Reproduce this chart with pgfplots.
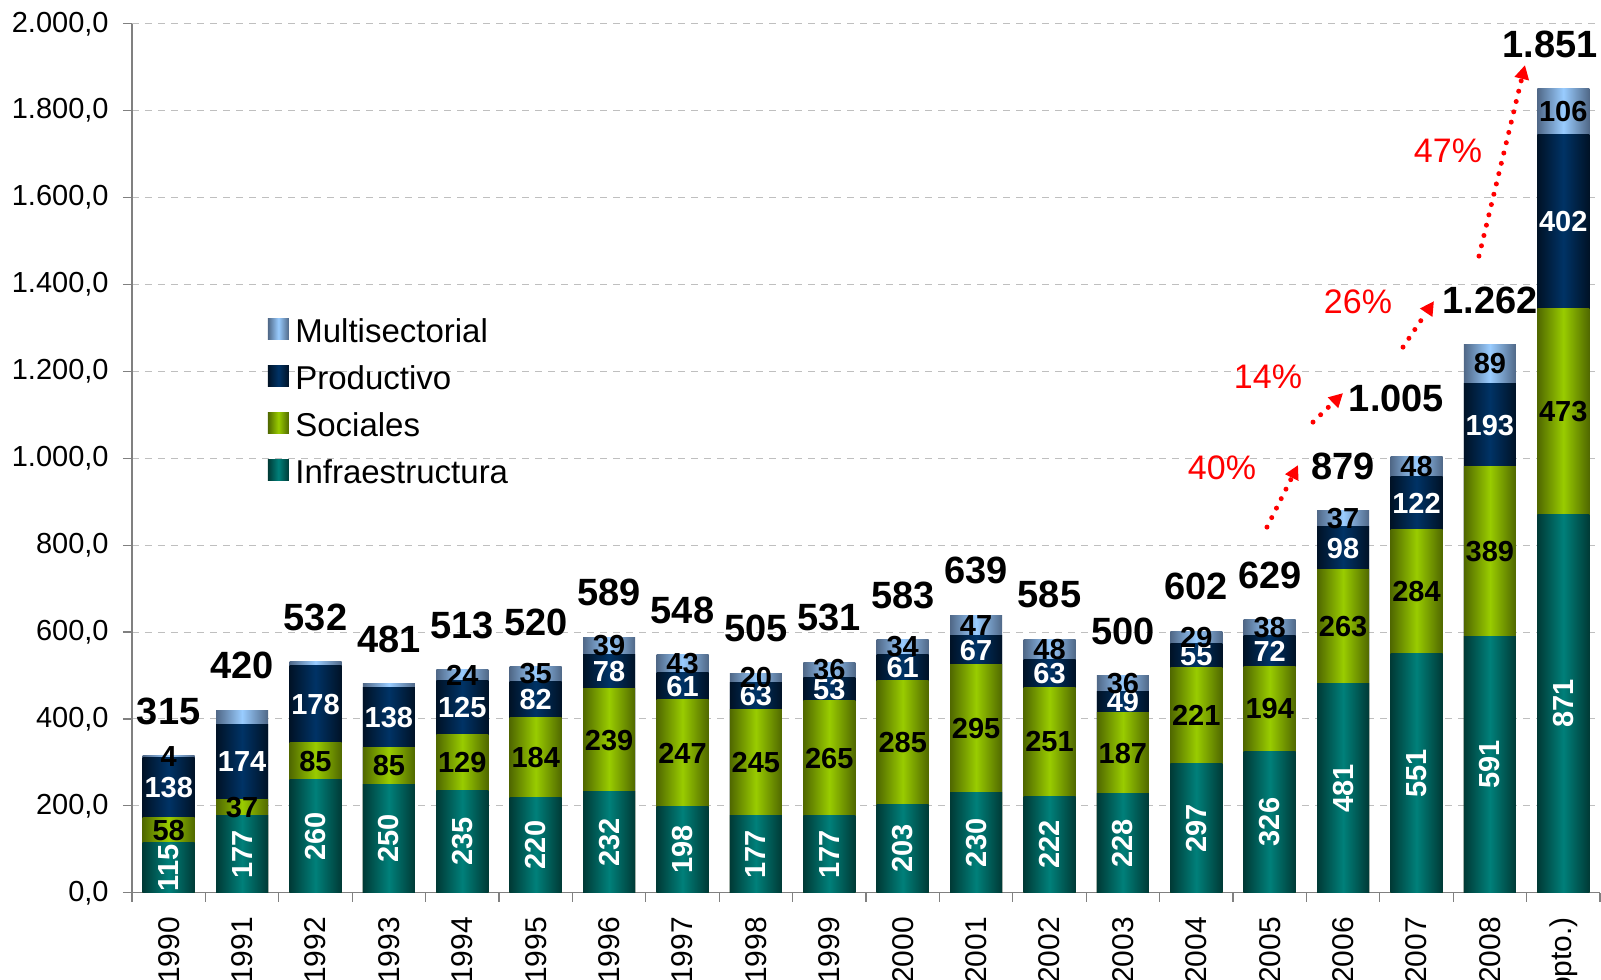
\documentclass[border=0pt]{standalone}
\usepackage{fontspec}
\setmainfont{Liberation Sans}
\usepackage{pgfplots}
\usepackage{pgfplotstable}
\pgfplotsset{compat=1.18}
\usetikzlibrary{arrows.meta}

\definecolor{infM}{RGB}{0,128,122}
\definecolor{infD}{RGB}{0,58,54}
\definecolor{socM}{RGB}{153,204,0}
\definecolor{socD}{RGB}{80,104,0}
\definecolor{proM}{RGB}{0,51,102}
\definecolor{proD}{RGB}{0,18,38}
\definecolor{mulM}{RGB}{153,204,255}
\definecolor{mulD}{RGB}{80,104,135}
\definecolor{gridc}{RGB}{191,191,191}
\definecolor{axc}{RGB}{128,128,128}

\newcommand\fTot{\fontsize{19pt}{22pt}\selectfont\bfseries}
\newcommand\fSeg{\fontsize{14.5pt}{17pt}\selectfont\bfseries}
\newcommand\fPct{\fontsize{17pt}{20pt}\selectfont}
\newcommand\fLeg{\fontsize{16.5pt}{19pt}\selectfont}
\newcommand\fTick{\fontsize{14.5pt}{16pt}\selectfont}
\newcommand\fXTick{\fontsize{15pt}{17pt}\selectfont}

\pgfplotsset{
  sqlegend/.style={legend image code/.code={\path[##1,draw=none] (0pt,0.65pt) rectangle (10.5pt,11.15pt);}},
  barbase/.style={forget plot, ybar, bar width=26pt, bar shift=0pt, draw=none},
  infsty/.style={left color=infD, right color=infD, middle color=infM},
  socsty/.style={left color=socD, right color=socD, middle color=socM},
  prosty/.style={left color=proD, right color=proD, middle color=proM},
  mulsty/.style={left color=mulD, right color=mulD, middle color=mulM},
}

\pgfplotstableread{
x inf soc prod mul tot totlab mshow dx dy
0 115 58 138 4 315 315 1 0 0
1 177 37 174 32 420 420 0 0 0
2 260 85 178 9 532 532 0 0 0
3 250 85 138 8 481 481 0 0 0
4 235 129 125 24 513 513 1 0 0
5 220 184 82 35 520 520 1 0 0
6 232 239 78 39 589 589 1 0 0
7 198 247 61 43 548 548 1 0 0
8 177 245 63 20 505 505 1 0 0
9 177 265 53 36 531 531 1 0 0
10 203 285 61 34 583 583 1 0 0
11 230 295 67 47 639 639 1 0 0
12 222 251 63 48 585 585 1 0 0
13 228 187 49 36 500 500 1 0 0
14 297 221 55 29 602 602 1 0 0
15 326 194 72 38 629 629 1 0 0
16 481 263 98 37 879 879 1 0 0
17 551 284 122 48 1005 1.005 1 -10 6.75
18 591 389 193 89 1262 1.262 1 0 0
19 871 473 402 106 1851 1.851 1 -6.5 0
}\datatab

\begin{document}
\begin{tikzpicture}
\begin{axis}[name=main,
  scale only axis, width=734pt, height=434.5pt,
  xmin=-0.5, xmax=19.5, ymin=0, ymax=2000,
  axis x line*=bottom, axis y line*=left,
  axis line style={draw=axc, line width=0.6pt},
  tick style={draw=axc, line width=0.6pt},
  tick align=outside, major tick length=4.5pt,
  xtick={-0.5,0.5,...,19.5}, x tick label as interval,
  xticklabels={1990,1991,1992,1993,1994,1995,1996,1997,1998,1999,2000,2001,2002,2003,2004,2005,2006,2007,2008,2009 (ppto.)},
  xticklabel style={rotate=90, anchor=east, inner sep=0pt, font=\fXTick},
  xticklabel shift=7.5pt,
  ytick={0,200,...,2000},
  yticklabel shift=7pt,
  yticklabel style={font=\fTick, inner sep=0pt, /pgf/number format/.cd, fixed, fixed zerofill, precision=1, use comma, 1000 sep={.}, assume math mode=true},
  ymajorgrids, grid style={gridc, dash pattern=on 3.5pt off 3pt, line width=0.5pt},
  reverse legend, legend cell align=left,
  legend style={draw=none, fill=none, inner sep=0pt, outer sep=0pt, row sep=0pt, column sep=3.2pt,
    font=\fLeg, nodes={inner sep=0pt, text height=13pt, text depth=10.5pt},
    at={(rel axis cs:0.0926,0.6628)}, anchor=north west},
]
\pgfplotsinvokeforeach{0,...,19}{
  \addplot[barbase, mulsty, restrict x to domain=#1:#1] table[x=x, y expr=\thisrow{inf}+\thisrow{soc}+\thisrow{prod}+\thisrow{mul}]{\datatab};
  \addplot[barbase, prosty, restrict x to domain=#1:#1] table[x=x, y expr=\thisrow{inf}+\thisrow{soc}+\thisrow{prod}]{\datatab};
  \addplot[barbase, socsty, restrict x to domain=#1:#1] table[x=x, y expr=\thisrow{inf}+\thisrow{soc}]{\datatab};
  \addplot[barbase, infsty, restrict x to domain=#1:#1] table[x=x, y=inf]{\datatab};
}
\addlegendimage{sqlegend, infsty}
\addlegendentry{Infraestructura}
\addlegendimage{sqlegend, socsty}
\addlegendentry{Sociales}
\addlegendimage{sqlegend, prosty}
\addlegendentry{Productivo}
\addlegendimage{sqlegend, mulsty}
\addlegendentry{Multisectorial}
\end{axis}

\begin{axis}[at={(main.south west)}, anchor=south west,
  scale only axis, width=734pt, height=434.5pt,
  xmin=-0.5, xmax=19.5, ymin=0, ymax=2000,
  axis lines=none, clip=false]
\addplot[draw=none, nodes near coords, point meta=explicit symbolic,
  every node near coord/.append style={font=\fSeg, text=white, rotate=90, anchor=center, inner sep=0pt}]
  table[x=x, y expr=\thisrow{inf}/2, meta=inf]{\datatab};
\addplot[draw=none, nodes near coords, point meta=explicit symbolic,
  every node near coord/.append style={font=\fSeg, text=black, anchor=center, inner sep=0pt}]
  table[x=x, y expr=\thisrow{inf}+\thisrow{soc}/2, meta=soc]{\datatab};
\addplot[draw=none, nodes near coords, point meta=explicit symbolic,
  every node near coord/.append style={font=\fSeg, text=white, anchor=center, inner sep=0pt}]
  table[x=x, y expr=\thisrow{inf}+\thisrow{soc}+\thisrow{prod}/2, meta=prod]{\datatab};
\addplot[draw=none, nodes near coords, point meta=explicit symbolic,
  restrict expr to domain={\thisrow{mshow}}{0.5:1.5},
  every node near coord/.append style={font=\fSeg, text=black, anchor=center, inner sep=0pt}]
  table[x=x, y expr=\thisrow{inf}+\thisrow{soc}+\thisrow{prod}+\thisrow{mul}/2, meta=mul]{\datatab};
\addplot[draw=none, nodes near coords, point meta=explicit symbolic,
  visualization depends on={\thisrow{dx} \as \dx},
  visualization depends on={\thisrow{dy} \as \dy},
  every node near coord/.append style={font=\fTot, text=black, anchor=center, inner sep=0pt, xshift=\dx pt, yshift=22.25pt+\dy pt}]
  table[x=x, y=tot, meta=totlab]{\datatab};

\tikzset{redarr/.style={red, line width=2.5pt, line cap=round, dash pattern=on 0pt off 5.3pt, -{Triangle[length=7pt,width=7pt]}}}
\draw[redarr] (axis cs:14.963,841.7) -- (axis cs:15.386,984.4);
\draw[redarr] (axis cs:15.59,1083.3) -- (axis cs:15.999,1150.1);
\draw[redarr] (axis cs:16.816,1255.9) -- (axis cs:17.238,1361.8);
\draw[redarr] (axis cs:17.851,1465.4) -- (axis cs:18.478,1905);
\node[font=\fPct, text=red, inner sep=0pt] at (axis cs:14.35,977) {40\%};
\node[font=\fPct, text=red, inner sep=0pt] at (axis cs:14.977,1186.9) {14\%};
\node[font=\fPct, text=red, inner sep=0pt] at (axis cs:16.203,1359.5) {26\%};
\node[font=\fPct, text=red, inner sep=0pt] at (axis cs:17.429,1707) {47\%};
\end{axis}
\pgfresetboundingbox
\path[use as bounding box] ([shift={(-66pt,-43.15pt)}]main.south west) rectangle ([shift={(0.5pt,11.9pt)}]main.north east);
\end{tikzpicture}
\end{document}
